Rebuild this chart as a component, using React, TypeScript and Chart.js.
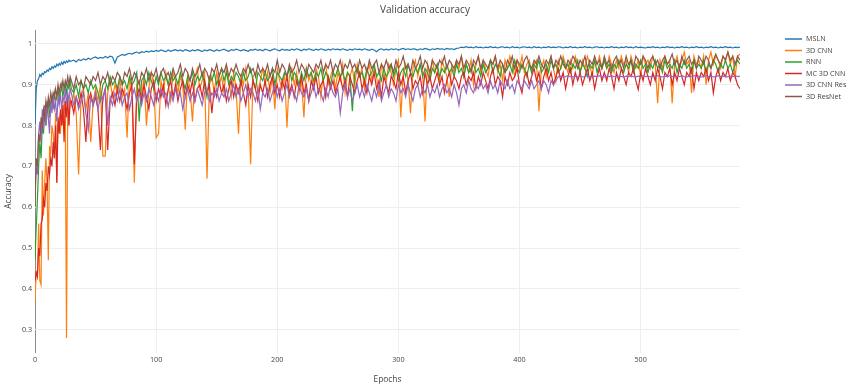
import React, { useEffect, useRef } from "react";
import { Chart, registerables } from "chart.js";

Chart.register(...registerables);

// x categories: every epoch up to 29, then every 2nd epoch up to 582
const EPOCHS: number[] = [
  ...Array.from({ length: 30 }, (_, i) => i),
  ...Array.from({ length: 277 }, (_, i) => 30 + 2 * i),
];

const SERIES_NAMES = ["MSLN", "3D CNN", "RNN", "MC 3D CNN", "3D CNN Res", "3D ResNet"];
const SERIES_COLORS = ["#1f77b4", "#ff7f0e", "#2ca02c", "#d62728", "#9467bd", "#8c564b"];
const Y_TICKS = [0.3, 0.4, 0.5, 0.6, 0.7, 0.8, 0.9, 1];
const X_TICKS = [0, 100, 200, 300, 400, 500];

const MSLN = [
  0.80, 0.89, 0.91, 0.915, 0.925, 0.92, 0.928, 0.925, 0.932, 0.93,
  0.936, 0.933, 0.94, 0.937, 0.944, 0.94, 0.946, 0.943, 0.95, 0.946,
  0.952, 0.948, 0.955, 0.95, 0.957, 0.953, 0.958, 0.955, 0.96, 0.957,
  /*30*/ 0.958, 0.960, 0.956, 0.962, 0.959, 0.963, 0.961, 0.965, 0.962, 0.966,
  /*50*/ 0.968, 0.964, 0.967, 0.965, 0.969, 0.966, 0.970, 0.968, 0.953, 0.968,
  /*70*/ 0.971, 0.974, 0.972, 0.975, 0.977, 0.975, 0.978, 0.980, 0.977, 0.981,
  /*90*/ 0.979, 0.982, 0.980, 0.983, 0.981, 0.984, 0.982, 0.985, 0.983, 0.981,
  /*110*/ 0.985, 0.982, 0.984, 0.986, 0.983, 0.985, 0.982, 0.986, 0.984, 0.982,
  /*130*/ 0.985, 0.983, 0.986, 0.984, 0.981, 0.985, 0.983, 0.986, 0.984, 0.982,
  /*150*/ 0.986, 0.983, 0.985, 0.987, 0.984, 0.982, 0.986, 0.984, 0.987, 0.985,
  /*170*/ 0.983, 0.986, 0.984, 0.982, 0.986, 0.985, 0.987, 0.984, 0.986, 0.983,
  /*190*/ 0.987, 0.985, 0.983, 0.986, 0.988, 0.985, 0.983, 0.987, 0.985, 0.986,
  /*210*/ 0.984, 0.987, 0.985, 0.988, 0.986, 0.983, 0.987, 0.985, 0.988, 0.986,
  /*230*/ 0.984, 0.987, 0.985, 0.988, 0.986, 0.984, 0.987, 0.985, 0.988, 0.986,
  /*250*/ 0.987, 0.985, 0.988, 0.986, 0.984, 0.987, 0.985, 0.988, 0.986, 0.987,
  /*270*/ 0.985, 0.988, 0.986, 0.984, 0.987, 0.985, 0.981, 0.986, 0.988, 0.985,
  /*290*/ 0.987, 0.985, 0.988, 0.986, 0.988, 0.985, 0.987, 0.989, 0.986, 0.988,
  /*310*/ 0.986, 0.988, 0.987, 0.985, 0.988, 0.986, 0.989, 0.987, 0.985, 0.988,
  /*330*/ 0.986, 0.989, 0.987, 0.988, 0.986, 0.989, 0.987, 0.988, 0.986, 0.989,
  /*350*/ 0.990, 0.992, 0.991, 0.993, 0.991, 0.992, 0.990, 0.993, 0.991, 0.992,
  /*370*/ 0.990, 0.992, 0.991, 0.993, 0.991, 0.992, 0.990, 0.992, 0.993, 0.991,
  /*390*/ 0.992, 0.990, 0.993, 0.991, 0.992, 0.990, 0.992, 0.993, 0.991, 0.992,
  /*410*/ 0.990, 0.993, 0.991, 0.992, 0.990, 0.992, 0.991, 0.993, 0.991, 0.992,
  /*430*/ 0.991, 0.993, 0.992, 0.990, 0.992, 0.991, 0.993, 0.991, 0.992, 0.990,
  /*450*/ 0.992, 0.991, 0.993, 0.991, 0.992, 0.990, 0.992, 0.993, 0.991, 0.992,
  /*470*/ 0.990, 0.992, 0.991, 0.993, 0.991, 0.992, 0.990, 0.992, 0.991, 0.993,
  /*490*/ 0.991, 0.992, 0.990, 0.993, 0.991, 0.992, 0.991, 0.990, 0.992, 0.991,
  /*510*/ 0.993, 0.991, 0.992, 0.990, 0.992, 0.991, 0.993, 0.991, 0.992, 0.990,
  /*530*/ 0.992, 0.991, 0.993, 0.991, 0.992, 0.990, 0.992, 0.991, 0.993, 0.991,
  /*550*/ 0.992, 0.990, 0.992, 0.991, 0.993, 0.991, 0.992, 0.990, 0.992, 0.991,
  /*570*/ 0.993, 0.991, 0.992, 0.990, 0.992, 0.991, 0.992,
];

const CNN_3D = [
  0.37, 0.44, 0.43, 0.56, 0.42, 0.41, 0.69, 0.58, 0.66, 0.72,
  0.65, 0.47, 0.75, 0.73, 0.80, 0.78, 0.72, 0.83, 0.66, 0.80,
  0.82, 0.78, 0.85, 0.80, 0.86, 0.83, 0.28, 0.84, 0.80, 0.87,
  /*30*/ 0.85, 0.88, 0.83, 0.68, 0.87, 0.89, 0.84, 0.88, 0.76, 0.86,
  /*50*/ 0.89, 0.86, 0.90, 0.725, 0.725, 0.88, 0.91, 0.87, 0.90, 0.88,
  /*70*/ 0.91, 0.87, 0.89, 0.77, 0.92, 0.88, 0.66, 0.90, 0.91, 0.87,
  /*90*/ 0.92, 0.80, 0.89, 0.93, 0.90, 0.77, 0.78, 0.91, 0.88, 0.93,
  /*110*/ 0.90, 0.86, 0.93, 0.91, 0.88, 0.92, 0.90, 0.79, 0.92, 0.89,
  /*130*/ 0.81, 0.92, 0.94, 0.89, 0.91, 0.93, 0.67, 0.90, 0.92, 0.88,
  /*150*/ 0.93, 0.90, 0.92, 0.88, 0.94, 0.91, 0.87, 0.93, 0.89, 0.78,
  /*170*/ 0.92, 0.90, 0.94, 0.89, 0.705, 0.92, 0.93, 0.88, 0.91, 0.94,
  /*190*/ 0.90, 0.93, 0.88, 0.92, 0.84, 0.94, 0.91, 0.89, 0.93, 0.795,
  /*210*/ 0.92, 0.94, 0.90, 0.93, 0.88, 0.91, 0.82, 0.94, 0.91, 0.93,
  /*230*/ 0.89, 0.94, 0.92, 0.87, 0.93, 0.95, 0.90, 0.92, 0.94, 0.89,
  /*250*/ 0.93, 0.91, 0.95, 0.88, 0.93, 0.92, 0.94, 0.90, 0.95, 0.92,
  /*270*/ 0.94, 0.89, 0.93, 0.95, 0.91, 0.94, 0.92, 0.87, 0.95, 0.93,
  /*290*/ 0.91, 0.95, 0.93, 0.90, 0.94, 0.96, 0.82, 0.93, 0.95, 0.91,
  /*310*/ 0.83, 0.94, 0.96, 0.92, 0.95, 0.93, 0.81, 0.95, 0.92, 0.96,
  /*330*/ 0.93, 0.95, 0.91, 0.96, 0.94, 0.92, 0.87, 0.95, 0.93, 0.96,
  /*350*/ 0.94, 0.97, 0.92, 0.95, 0.93, 0.96, 0.90, 0.95, 0.97, 0.93,
  /*370*/ 0.96, 0.94, 0.92, 0.96, 0.95, 0.97, 0.93, 0.95, 0.91, 0.96,
  /*390*/ 0.94, 0.97, 0.95, 0.92, 0.96, 0.94, 0.97, 0.93, 0.95, 0.96,
  /*410*/ 0.93, 0.95, 0.96, 0.835, 0.94, 0.96, 0.92, 0.95, 0.97, 0.94,
  /*430*/ 0.91, 0.96, 0.94, 0.97, 0.95, 0.93, 0.96, 0.94, 0.97, 0.95,
  /*450*/ 0.93, 0.96, 0.94, 0.97, 0.95, 0.92, 0.96, 0.95, 0.97, 0.94,
  /*470*/ 0.96, 0.94, 0.97, 0.95, 0.93, 0.96, 0.94, 0.97, 0.95, 0.96,
  /*490*/ 0.93, 0.97, 0.95, 0.94, 0.96, 0.92, 0.97, 0.95, 0.96, 0.94,
  /*510*/ 0.97, 0.95, 0.855, 0.96, 0.94, 0.97, 0.95, 0.96, 0.855, 0.95,
  /*530*/ 0.97, 0.94, 0.96, 0.98, 0.95, 0.96, 0.88, 0.97, 0.95, 0.96,
  /*550*/ 0.94, 0.97, 0.90, 0.96, 0.98, 0.95, 0.97, 0.96, 0.94, 0.97,
  /*570*/ 0.96, 0.98, 0.95, 0.97, 0.92, 0.97, 0.975,
];

const RNN = [
  0.47, 0.55, 0.62, 0.70, 0.76, 0.72, 0.80, 0.78, 0.84, 0.80,
  0.83, 0.86, 0.82, 0.85, 0.87, 0.84, 0.88, 0.86, 0.87, 0.89,
  0.86, 0.88, 0.90, 0.87, 0.89, 0.90, 0.88, 0.90, 0.89, 0.91,
  /*30*/ 0.89, 0.88, 0.90, 0.87, 0.91, 0.89, 0.90, 0.88, 0.91, 0.89,
  /*50*/ 0.90, 0.88, 0.86, 0.90, 0.91, 0.89, 0.92, 0.90, 0.91, 0.89,
  /*70*/ 0.92, 0.90, 0.91, 0.89, 0.92, 0.90, 0.91, 0.93, 0.81, 0.91,
  /*90*/ 0.92, 0.90, 0.93, 0.91, 0.89, 0.92, 0.90, 0.93, 0.91, 0.92,
  /*110*/ 0.90, 0.93, 0.91, 0.92, 0.90, 0.93, 0.91, 0.89, 0.92, 0.91,
  /*130*/ 0.93, 0.90, 0.92, 0.91, 0.93, 0.90, 0.87, 0.92, 0.91, 0.93,
  /*150*/ 0.90, 0.92, 0.94, 0.91, 0.93, 0.90, 0.92, 0.91, 0.93, 0.92,
  /*170*/ 0.90, 0.93, 0.91, 0.92, 0.94, 0.91, 0.89, 0.93, 0.92, 0.91,
  /*190*/ 0.93, 0.91, 0.92, 0.94, 0.90, 0.93, 0.92, 0.91, 0.93, 0.92,
  /*210*/ 0.94, 0.91, 0.93, 0.92, 0.90, 0.93, 0.91, 0.94, 0.92, 0.93,
  /*230*/ 0.91, 0.93, 0.92, 0.94, 0.91, 0.93, 0.92, 0.90, 0.93, 0.92,
  /*250*/ 0.94, 0.92, 0.93, 0.91, 0.93, 0.92, 0.835, 0.93, 0.94, 0.92,
  /*270*/ 0.93, 0.91, 0.94, 0.92, 0.93, 0.95, 0.92, 0.93, 0.91, 0.94,
  /*290*/ 0.92, 0.93, 0.95, 0.92, 0.94, 0.91, 0.93, 0.94, 0.92, 0.95,
  /*310*/ 0.93, 0.92, 0.94, 0.93, 0.95, 0.92, 0.94, 0.93, 0.91, 0.94,
  /*330*/ 0.93, 0.95, 0.92, 0.94, 0.93, 0.95, 0.93, 0.94, 0.92, 0.95,
  /*350*/ 0.93, 0.94, 0.92, 0.95, 0.93, 0.94, 0.95, 0.93, 0.94, 0.92,
  /*370*/ 0.95, 0.93, 0.94, 0.96, 0.93, 0.95, 0.94, 0.92, 0.95, 0.93,
  /*390*/ 0.94, 0.95, 0.93, 0.96, 0.94, 0.93, 0.95, 0.94, 0.92, 0.95,
  /*410*/ 0.93, 0.95, 0.94, 0.96, 0.93, 0.94, 0.95, 0.93, 0.96, 0.94,
  /*430*/ 0.95, 0.93, 0.94, 0.96, 0.94, 0.95, 0.93, 0.95, 0.94, 0.96,
  /*450*/ 0.93, 0.95, 0.94, 0.92, 0.95, 0.94, 0.96, 0.93, 0.95, 0.94,
  /*470*/ 0.96, 0.94, 0.95, 0.93, 0.95, 0.94, 0.96, 0.94, 0.93, 0.95,
  /*490*/ 0.94, 0.96, 0.93, 0.95, 0.94, 0.96, 0.94, 0.95, 0.93, 0.95,
  /*510*/ 0.94, 0.96, 0.94, 0.95, 0.93, 0.96, 0.94, 0.95, 0.94, 0.96,
  /*530*/ 0.93, 0.95, 0.94, 0.96, 0.94, 0.95, 0.93, 0.96, 0.94, 0.95,
  /*550*/ 0.94, 0.96, 0.93, 0.95, 0.94, 0.96, 0.95, 0.93, 0.95, 0.94,
  /*570*/ 0.96, 0.94, 0.95, 0.93, 0.95, 0.96, 0.95,
];

const MC_3D_CNN = [
  0.42, 0.44, 0.43, 0.50, 0.48, 0.56, 0.57, 0.62, 0.60, 0.66,
  0.64, 0.70, 0.68, 0.72, 0.70, 0.76, 0.72, 0.80, 0.66, 0.82,
  0.78, 0.84, 0.80, 0.85, 0.76, 0.86, 0.82, 0.87, 0.80, 0.86,
  /*30*/ 0.86, 0.83, 0.87, 0.85, 0.88, 0.84, 0.76, 0.86, 0.88, 0.85,
  /*50*/ 0.87, 0.84, 0.74, 0.87, 0.89, 0.74, 0.86, 0.88, 0.85, 0.89,
  /*70*/ 0.86, 0.89, 0.87, 0.84, 0.88, 0.90, 0.705, 0.87, 0.89, 0.86,
  /*90*/ 0.90, 0.87, 0.84, 0.89, 0.91, 0.86, 0.89, 0.87, 0.90, 0.85,
  /*110*/ 0.89, 0.91, 0.87, 0.90, 0.86, 0.89, 0.91, 0.87, 0.90, 0.88,
  /*130*/ 0.91, 0.86, 0.89, 0.90, 0.87, 0.91, 0.88, 0.90, 0.83, 0.89,
  /*150*/ 0.87, 0.91, 0.88, 0.90, 0.86, 0.89, 0.91, 0.87, 0.90, 0.88,
  /*170*/ 0.91, 0.88, 0.85, 0.90, 0.87, 0.91, 0.89, 0.86, 0.90, 0.88,
  /*190*/ 0.91, 0.87, 0.90, 0.92, 0.88, 0.90, 0.87, 0.91, 0.89, 0.92,
  /*210*/ 0.88, 0.90, 0.87, 0.91, 0.89, 0.92, 0.88, 0.90, 0.86, 0.91,
  /*230*/ 0.89, 0.92, 0.88, 0.90, 0.91, 0.87, 0.92, 0.89, 0.91, 0.88,
  /*250*/ 0.90, 0.92, 0.89, 0.91, 0.87, 0.92, 0.90, 0.88, 0.91, 0.93,
  /*270*/ 0.89, 0.91, 0.88, 0.92, 0.90, 0.93, 0.89, 0.91, 0.87, 0.92,
  /*290*/ 0.90, 0.88, 0.92, 0.91, 0.89, 0.93, 0.90, 0.92, 0.88, 0.91,
  /*310*/ 0.93, 0.89, 0.91, 0.90, 0.92, 0.88, 0.93, 0.90, 0.92, 0.89,
  /*330*/ 0.91, 0.93, 0.90, 0.92, 0.88, 0.91, 0.93, 0.90, 0.92, 0.91,
  /*350*/ 0.89, 0.92, 0.93, 0.90, 0.92, 0.91, 0.93, 0.89, 0.92, 0.90,
  /*370*/ 0.93, 0.91, 0.89, 0.92, 0.94, 0.90, 0.92, 0.91, 0.87, 0.92,
  /*390*/ 0.90, 0.93, 0.91, 0.92, 0.94, 0.90, 0.88, 0.92, 0.93, 0.90,
  /*410*/ 0.92, 0.94, 0.91, 0.93, 0.89, 0.92, 0.94, 0.91, 0.93, 0.90,
  /*430*/ 0.92, 0.94, 0.91, 0.93, 0.89, 0.92, 0.94, 0.90, 0.93, 0.91,
  /*450*/ 0.93, 0.90, 0.92, 0.94, 0.91, 0.93, 0.89, 0.92, 0.94, 0.91,
  /*470*/ 0.93, 0.91, 0.94, 0.92, 0.89, 0.93, 0.91, 0.94, 0.92, 0.90,
  /*490*/ 0.93, 0.92, 0.94, 0.91, 0.888, 0.93, 0.91, 0.94, 0.92, 0.90,
  /*510*/ 0.93, 0.91, 0.94, 0.92, 0.89, 0.93, 0.92, 0.94, 0.90, 0.93,
  /*530*/ 0.91, 0.94, 0.92, 0.90, 0.93, 0.92, 0.94, 0.89, 0.93, 0.91,
  /*550*/ 0.93, 0.92, 0.94, 0.91, 0.93, 0.88, 0.92, 0.94, 0.91, 0.93,
  /*570*/ 0.92, 0.94, 0.91, 0.93, 0.92, 0.90, 0.89,
];

const CNN_3D_RES = [
  0.63, 0.70, 0.68, 0.78, 0.81, 0.76, 0.84, 0.79, 0.85, 0.80,
  0.86, 0.82, 0.78, 0.86, 0.83, 0.87, 0.84, 0.86, 0.81, 0.87,
  0.85, 0.88, 0.84, 0.87, 0.86, 0.89, 0.85, 0.88, 0.86, 0.89,
  /*30*/ 0.88, 0.85, 0.87, 0.84, 0.86, 0.88, 0.83, 0.79, 0.87, 0.85,
  /*50*/ 0.88, 0.84, 0.87, 0.86, 0.89, 0.80, 0.87, 0.85, 0.88, 0.86,
  /*70*/ 0.89, 0.85, 0.87, 0.88, 0.84, 0.87, 0.89, 0.86, 0.88, 0.85,
  /*90*/ 0.88, 0.86, 0.89, 0.87, 0.85, 0.88, 0.86, 0.89, 0.87, 0.88,
  /*110*/ 0.846, 0.88, 0.86, 0.89, 0.87, 0.88, 0.84, 0.87, 0.89, 0.86,
  /*130*/ 0.88, 0.86, 0.89, 0.87, 0.85, 0.88, 0.89, 0.86, 0.88, 0.87,
  /*150*/ 0.89, 0.86, 0.88, 0.87, 0.89, 0.86, 0.88, 0.90, 0.87, 0.89,
  /*170*/ 0.86, 0.88, 0.90, 0.87, 0.89, 0.88, 0.86, 0.89, 0.84, 0.88,
  /*190*/ 0.87, 0.89, 0.86, 0.88, 0.90, 0.87, 0.89, 0.86, 0.88, 0.90,
  /*210*/ 0.87, 0.89, 0.88, 0.86, 0.90, 0.88, 0.87, 0.89, 0.86, 0.88,
  /*230*/ 0.90, 0.87, 0.89, 0.88, 0.86, 0.89, 0.87, 0.90, 0.88, 0.87,
  /*250*/ 0.89, 0.83, 0.88, 0.90, 0.87, 0.89, 0.86, 0.88, 0.90, 0.87,
  /*270*/ 0.89, 0.87, 0.90, 0.88, 0.86, 0.89, 0.87, 0.90, 0.86, 0.88,
  /*290*/ 0.90, 0.87, 0.89, 0.88, 0.86, 0.90, 0.88, 0.89, 0.87, 0.90,
  /*310*/ 0.88, 0.86, 0.89, 0.90, 0.87, 0.89, 0.88, 0.90, 0.87, 0.89,
  /*330*/ 0.88, 0.90, 0.87, 0.89, 0.90, 0.88, 0.89, 0.87, 0.90, 0.88,
  /*350*/ 0.85, 0.89, 0.90, 0.88, 0.91, 0.89, 0.88, 0.90, 0.89, 0.91,
  /*370*/ 0.89, 0.90, 0.88, 0.91, 0.89, 0.90, 0.88, 0.91, 0.90, 0.89,
  /*390*/ 0.91, 0.89, 0.90, 0.88, 0.91, 0.90, 0.89, 0.91, 0.90, 0.89,
  /*410*/ 0.91, 0.89, 0.90, 0.91, 0.89, 0.91, 0.90, 0.88, 0.91, 0.90,
  /*430*/ 0.91, 0.92, 0.921, 0.919, 0.92, 0.922, 0.92, 0.919, 0.921, 0.92,
  /*450*/ 0.921, 0.919, 0.92, 0.922, 0.92, 0.919, 0.921, 0.92, 0.922, 0.92,
  /*470*/ 0.919, 0.921, 0.92, 0.922, 0.92, 0.919, 0.921, 0.92, 0.919, 0.921,
  /*490*/ 0.92, 0.922, 0.92, 0.919, 0.921, 0.92, 0.922, 0.92, 0.921, 0.919,
  /*510*/ 0.92, 0.921, 0.922, 0.92, 0.919, 0.921, 0.92, 0.922, 0.92, 0.919,
  /*530*/ 0.921, 0.92, 0.922, 0.92, 0.919, 0.921, 0.92, 0.922, 0.92, 0.921,
  /*550*/ 0.919, 0.92, 0.922, 0.92, 0.921, 0.919, 0.92, 0.922, 0.92, 0.921,
  /*570*/ 0.92, 0.919, 0.921, 0.92, 0.922, 0.92, 0.921,
];

const RESNET_3D = [
  0.60, 0.72, 0.70, 0.78, 0.76, 0.82, 0.80, 0.84, 0.82, 0.86,
  0.84, 0.87, 0.85, 0.88, 0.86, 0.88, 0.87, 0.89, 0.87, 0.90,
  0.88, 0.90, 0.89, 0.91, 0.89, 0.91, 0.90, 0.92, 0.90, 0.92,
  /*30*/ 0.91, 0.89, 0.92, 0.90, 0.91, 0.89, 0.92, 0.91, 0.90, 0.92,
  /*50*/ 0.91, 0.93, 0.90, 0.92, 0.91, 0.93, 0.90, 0.92, 0.91, 0.93,
  /*70*/ 0.92, 0.90, 0.93, 0.92, 0.94, 0.91, 0.93, 0.92, 0.90, 0.93,
  /*90*/ 0.92, 0.94, 0.91, 0.93, 0.92, 0.94, 0.91, 0.93, 0.94, 0.92,
  /*110*/ 0.93, 0.91, 0.94, 0.92, 0.93, 0.95, 0.92, 0.94, 0.93, 0.91,
  /*130*/ 0.94, 0.92, 0.93, 0.95, 0.92, 0.94, 0.93, 0.91, 0.94, 0.93,
  /*150*/ 0.95, 0.92, 0.94, 0.93, 0.95, 0.92, 0.94, 0.93, 0.95, 0.93,
  /*170*/ 0.92, 0.94, 0.93, 0.95, 0.93, 0.94, 0.92, 0.95, 0.93, 0.94,
  /*190*/ 0.93, 0.95, 0.92, 0.94, 0.93, 0.96, 0.93, 0.95, 0.94, 0.92,
  /*210*/ 0.95, 0.93, 0.94, 0.96, 0.93, 0.95, 0.94, 0.92, 0.95, 0.94,
  /*230*/ 0.93, 0.95, 0.94, 0.96, 0.93, 0.95, 0.94, 0.96, 0.93, 0.95,
  /*250*/ 0.94, 0.96, 0.93, 0.95, 0.94, 0.96, 0.94, 0.95, 0.93, 0.96,
  /*270*/ 0.94, 0.95, 0.93, 0.96, 0.94, 0.95, 0.96, 0.93, 0.95, 0.94,
  /*290*/ 0.96, 0.94, 0.95, 0.93, 0.96, 0.94, 0.95, 0.97, 0.94, 0.95,
  /*310*/ 0.93, 0.96, 0.94, 0.95, 0.97, 0.94, 0.96, 0.95, 0.93, 0.96,
  /*330*/ 0.95, 0.94, 0.96, 0.95, 0.97, 0.94, 0.96, 0.95, 0.94, 0.96,
  /*350*/ 0.95, 0.97, 0.94, 0.96, 0.95, 0.93, 0.96, 0.95, 0.97, 0.94,
  /*370*/ 0.96, 0.95, 0.94, 0.96, 0.95, 0.97, 0.94, 0.96, 0.95, 0.93,
  /*390*/ 0.96, 0.95, 0.97, 0.94, 0.96, 0.95, 0.94, 0.96, 0.97, 0.95,
  /*410*/ 0.94, 0.96, 0.95, 0.97, 0.95, 0.94, 0.96, 0.95, 0.97, 0.94,
  /*430*/ 0.96, 0.95, 0.97, 0.95, 0.94, 0.96, 0.95, 0.97, 0.96, 0.94,
  /*450*/ 0.96, 0.95, 0.97, 0.94, 0.96, 0.95, 0.97, 0.95, 0.96, 0.94,
  /*470*/ 0.97, 0.95, 0.96, 0.94, 0.96, 0.97, 0.95, 0.96, 0.94, 0.97,
  /*490*/ 0.95, 0.96, 0.94, 0.97, 0.96, 0.95, 0.97, 0.96, 0.94, 0.96,
  /*510*/ 0.97, 0.95, 0.96, 0.94, 0.96, 0.97, 0.95, 0.96, 0.975, 0.95,
  /*530*/ 0.96, 0.94, 0.97, 0.95, 0.96, 0.97, 0.95, 0.96, 0.94, 0.97,
  /*550*/ 0.96, 0.95, 0.97, 0.96, 0.94, 0.96, 0.975, 0.96, 0.95, 0.97,
  /*570*/ 0.96, 0.98, 0.96, 0.97, 0.95, 0.97, 0.96,
];

const SERIES_VALUES = [MSLN, CNN_3D, RNN, MC_3D_CNN, CNN_3D_RES, RESNET_3D];

const FONT = '"Open Sans", "Noto Sans", sans-serif';
const TEXT = "#444";

const overlayPlugin = {
  id: "overlay",
  afterDraw(chart: any) {
    const ctx = chart.ctx as CanvasRenderingContext2D;
    ctx.save();
    ctx.fillStyle = TEXT;
    ctx.font = `10px ${FONT}`;
    ctx.textAlign = "center";
    ctx.textBaseline = "middle";
    ctx.fillText("Validation accuracy", 425, 10);
    ctx.font = `7.2px ${FONT}`;
    ctx.textAlign = "left";
    SERIES_NAMES.forEach((name, i) => {
      const y = 39 + i * 11.5;
      ctx.strokeStyle = SERIES_COLORS[i];
      ctx.lineWidth = 1.5;
      ctx.beginPath();
      ctx.moveTo(785, y);
      ctx.lineTo(802, y);
      ctx.stroke();
      ctx.fillStyle = TEXT;
      ctx.fillText(name, 806, y);
    });
    ctx.restore();
  },
};

export default function App() {
  const ref = useRef<HTMLCanvasElement | null>(null);
  useEffect(() => {
    if (!ref.current) return;
    const datasets = SERIES_NAMES.map((name, i) => ({
      label: name,
      data: EPOCHS.map((e, j) => ({ x: e, y: SERIES_VALUES[i][j] })).filter(
        (p) => p.y !== undefined
      ),
      borderColor: SERIES_COLORS[i],
      backgroundColor: SERIES_COLORS[i],
      borderWidth: 1.2,
      pointRadius: 0,
      tension: 0,
      fill: false,
      order: SERIES_NAMES.length - i,
    }));
    const chart = new Chart(ref.current, {
      type: "line",
      data: { datasets },
      plugins: [overlayPlugin],
      options: {
        animation: false,
        responsive: false,
        maintainAspectRatio: false,
        layout: { padding: { top: 30, right: 110, left: 0, bottom: 0 } },
        plugins: {
          legend: { display: false },
          title: { display: false },
          tooltip: { enabled: false },
        },
        scales: {
          x: {
            type: "linear",
            min: 0,
            max: 582,
            afterFit: (s: any) => {
              s.height = 36;
            },
            afterBuildTicks: (s: any) => {
              s.ticks = X_TICKS.map((v) => ({ value: v }));
            },
            ticks: {
              color: TEXT,
              font: { family: FONT, size: 7.2 },
              padding: 3,
              maxRotation: 0,
              callback: (v: any) => String(v),
            },
            grid: {
              drawTicks: false,
              color: (c: any) => (c.tick && c.tick.value === 0 ? "#8a8a8a" : "#eeeeee"),
              lineWidth: 1,
            },
            border: { display: false },
            title: {
              display: true,
              text: "Epochs",
              color: TEXT,
              font: { family: FONT, size: 8.4 },
              padding: 4,
            },
          },
          y: {
            type: "linear",
            min: 0.243,
            max: 1.034,
            afterFit: (s: any) => {
              s.width = 35;
            },
            afterBuildTicks: (s: any) => {
              s.ticks = Y_TICKS.map((v) => ({ value: v }));
            },
            ticks: {
              color: TEXT,
              font: { family: FONT, size: 7.2 },
              padding: 3,
              callback: (v: any) => String(Number(Number(v).toFixed(1))),
            },
            grid: { drawTicks: false, color: "#eeeeee", lineWidth: 1 },
            border: { display: false },
            title: {
              display: true,
              text: "Accuracy",
              color: TEXT,
              font: { family: FONT, size: 8.4 },
              padding: 4,
            },
          },
        },
      },
    } as any);
    return () => chart.destroy();
  }, []);
  return (
    <div style={{ position: "absolute", left: 0, top: 0, width: 850, height: 389, background: "#fff" }}>
      <canvas ref={ref} width={850} height={389} style={{ display: "block" }} />
    </div>
  );
}
